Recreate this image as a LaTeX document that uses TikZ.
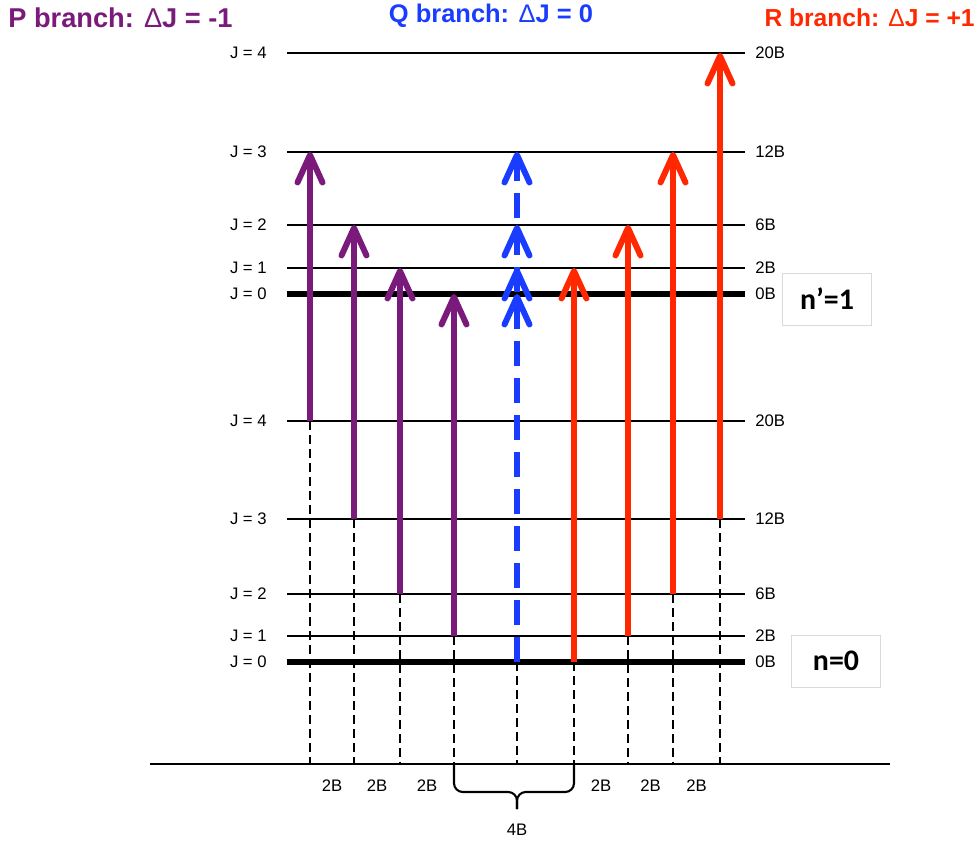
\documentclass[tikz,border=0pt]{standalone}
\usepackage{fontspec}
\setmainfont{Liberation Sans}
\newfontfamily\boxfont{Carlito}
\usetikzlibrary{arrows.meta,calc,positioning}
\definecolor{pbranch}{RGB}{122,26,122}
\definecolor{qbranch}{RGB}{25,60,255}
\definecolor{rbranch}{RGB}{255,40,0}
\newcommand{\thinD}{{\mdseries Δ}}

\begin{document}
\begin{tikzpicture}[x=0.02cm, y=-0.02cm,
        jlabel/.style={font=\fontsize{9.5}{11}\selectfont, inner sep=0pt},
        title/.style={font=\bfseries\fontsize{14.5}{17}\selectfont, inner sep=0pt},
        nbox/.style={draw=black!15, line width=0.5pt, minimum width=1.78cm, minimum height=1.04cm, font=\boxfont\bfseries\fontsize{17}{20}\selectfont},
        trans/.style={line width=3.4pt, -{Straight Barb[length=0.55cm,width=0.5cm,round]}},
        drop/.style={line width=1.1pt, dash pattern=on 0.18cm off 0.1cm},
        brace/.style={line width=1.2pt, rounded corners=5pt}
    ]
        \useasboundingbox (0,0) rectangle (980,841);

        % rotational levels of both vibrational states
        \foreach \j/\yu/\yl/\e/\w in {0/294/662/0B/3.4pt, 1/268/636/2B/1.3pt, 2/225/594/6B/1.3pt, 3/152/519/12B/1.3pt, 4/53/421/20B/1.3pt} {
            \coordinate (uL\j) at (287,\yu);
            \coordinate (uR\j) at (745,\yu);
            \coordinate (lL\j) at (287,\yl);
            \coordinate (lR\j) at (745,\yl);
            \draw[line width=\w] (uL\j) -- (uR\j);
            \draw[line width=\w] (lL\j) -- (lR\j);
            \node[jlabel, left=0.4cm of uL\j] (uJ\j) {J = \j};
            \node[jlabel, left=0.4cm of lL\j] (lJ\j) {J = \j};
            \node[jlabel, right=0.2cm of uR\j] (uE\j) {\e};
            \node[jlabel, right=0.2cm of lR\j] (lE\j) {\e};
        }

        % frequency axis
        \coordinate (axisL) at (150,764);
        \coordinate (axisR) at (890,764);
        \draw[line width=1.3pt] (axisL) -- (axisR);
        \foreach \c/\x in {1/310, 2/354, 3/400, 4/454, 5/517, 6/574, 7/628, 8/673, 9/720}
            \coordinate (b\c) at (\x,764);

        % projections onto the axis
        \foreach \c/\j in {1/4, 2/3, 3/2, 4/1, 5/0, 6/0, 7/1, 8/2, 9/3}
            \draw[drop] (b\c |- lL\j) -- (b\c);

        % P branch
        \draw[trans, pbranch] (b1 |- lL4) -- (b1 |- uL3);
        \draw[trans, pbranch] (b2 |- lL3) -- (b2 |- uL2);
        \draw[trans, pbranch] (b3 |- lL2) -- (b3 |- uL1);
        \draw[trans, pbranch] (b4 |- lL1) -- (b4 |- uL0);

        % Q branch
        \draw[trans, qbranch, dash pattern=on 0.5cm off 0.24cm] (b5 |- lL0) -- (b5 |- uL3);
        \draw[trans, qbranch] ($(b5 |- uL2)+(0,16)$) -- (b5 |- uL2);
        \draw[trans, qbranch] ($(b5 |- uL1)+(0,16)$) -- (b5 |- uL1);
        \draw[trans, qbranch] ($(b5 |- uL0)+(0,16)$) -- (b5 |- uL0);

        % R branch
        \draw[trans, rbranch] (b6 |- lL0) -- (b6 |- uL1);
        \draw[trans, rbranch] (b7 |- lL1) -- (b7 |- uL2);
        \draw[trans, rbranch] (b8 |- lL2) -- (b8 |- uL3);
        \draw[trans, rbranch] (b9 |- lL3) -- (b9 |- uL4);

        % line spacings
        \foreach \a/\b/\n in {1/2/1, 2/3/2, 3/4/3, 6/7/4, 7/8/5, 8/9/6}
            \node[jlabel, below=0.3cm of $(b\a)!0.5!(b\b)$] (gap\n) {2B};
        \coordinate (bmid) at (517,792);
        \coordinate (btip) at (517,809);
        \draw[brace] (b4) -- (b4 |- bmid) -- (bmid) -- (btip);
        \draw[brace] (b6) -- (b6 |- bmid) -- (bmid) -- (btip);
        \node[jlabel, below=0.3cm of btip] (gapQ) {4B};

        % branch titles
        \node[title, pbranch, anchor=west, font=\bfseries\fontsize{15.5}{18}\selectfont] (ptitle) at (8,18) {P branch: \thinD J = -1};
        \node[title, qbranch] (qtitle) at (491,16) {Q branch: \thinD J = 0};
        \node[title, rbranch, anchor=east, font=\bfseries\fontsize{14}{17}\selectfont] (rtitle) at (975,18) {R branch: \thinD J = +1};

        % vibrational states
        \node[nbox] (upper) at (827,299) {n’=1};
        \node[nbox] (lower) at (836,661) {n=0};

    \end{tikzpicture}
\end{document}
